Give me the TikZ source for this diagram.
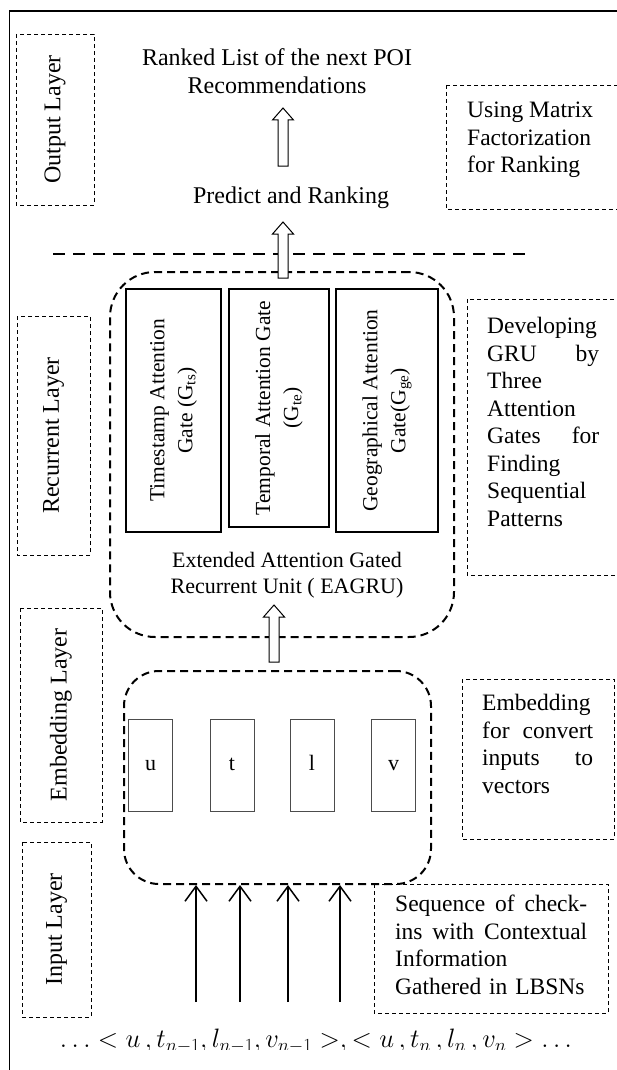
\documentclass[tikz,border=0pt]{standalone}
\usepackage{fontspec}
\usepackage{graphicx}
\setmainfont{Liberation Serif}
\usetikzlibrary{arrows.meta,calc}

\newcommand{\blockup}[2]{%
  \draw[blockarrow] let \p1=(#1), \p2=(#2) in
    (\x1-5pt,\y1) -- (\x1-5pt,\y2-12pt) -- (\x1-10.5pt,\y2-12pt) -- (\x1,\y2)
    -- (\x1+10.5pt,\y2-12pt) -- (\x1+5pt,\y2-12pt) -- (\x1+5pt,\y1) -- cycle;}

\tikzset{
  every node/.style={inner sep=0pt, font=\fontsize{24}{28}\selectfont},
  layerbox/.style={draw, line width=0.8pt, dash pattern=on 4pt off 3pt, rotate=90, align=center},
  notebox/.style={draw, line width=0.8pt, dash pattern=on 4pt off 3pt},
  notetext/.style={anchor=north west, align=left, font=\fontsize{23.5}{27.5}\selectfont},
  groupbox/.style={draw, line width=2pt, dash pattern=on 8pt off 5pt},
  gate/.style={draw, line width=2pt, rotate=90, align=center, font=\fontsize{21.5}{28}\selectfont},
  vecbox/.style={draw=black!70, line width=0.9pt, minimum width=44, minimum height=92,
    text height=11pt, text depth=0pt, font=\fontsize{22}{26}\selectfont},
  blockarrow/.style={draw, line width=1pt, fill=white},
  inarrow/.style={line width=1.5pt, -{Straight Barb[length=15pt,width=22pt,line width=1.5pt]}}
}

\begin{document}
\begin{tikzpicture}[x=1pt,y=-1pt]
\useasboundingbox (0,0) rectangle (616,1070);
% frame
\draw[line width=1.2pt] (9.5,1075) -- (9.5,11) -- (625,11);

% layers on the left
\node[layerbox, minimum width=171, minimum height=78] (outlayer) at (55,119.5) {Output Layer};
\node[layerbox, minimum width=239, minimum height=73] (reclayer) at (53.5,435.5) {Recurrent Layer};
\node[layerbox, minimum width=214, minimum height=82] (emblayer) at (61,715) {Embedding Layer};
\node[layerbox, minimum width=175, minimum height=69] (inlayer) at (56.5,929.5) {Input Layer};

% output part
\node[align=center] (title) at (277,71) {Ranked List of the next POI\\Recommendations};
\node (predict) at (291,198) {Predict and Ranking};
\draw[line width=0.8pt, dash pattern=on 4pt off 3pt] (446,85) rectangle (625,209);
\node[notetext] (mfnote) at (467,102) {Using Matrix\\Factorization\\for Ranking};

\draw[line width=2pt, dash pattern=on 12pt off 8pt] (53,254) -- (527,254);

% recurrent part
\node[groupbox, rounded corners=45pt, minimum width=344, minimum height=365] (eagru) at (282,454.5) {};
\node[gate, minimum width=243, minimum height=95] (gts) at (173.5,410.5) {Timestamp Attention\\Gate (G\textsubscript{ts})};
\node[gate, minimum width=238, minimum height=100] (gte) at (279,408) {Temporal Attention Gate\\(G\textsubscript{te})};
\node[gate, minimum width=243, minimum height=102] (gge) at (387,410.5) {Geographical Attention\\Gate(G\textsubscript{ge})};
\node[align=center, font=\fontsize{22}{26}\selectfont] (eagrulbl) at (287,575) {Extended Attention Gated\\Recurrent Unit ( EAGRU)};
\draw[notebox] (467,299) rectangle (625,575);
\node[notetext, text width=112] (grunote) at (487,317) {Developing\\GRU\hfill by\\Three\\Attention\\Gates\hfill for\\Finding\\Sequential\\Patterns};

% embedding part
\node[groupbox, rounded corners=35pt, minimum width=307, minimum height=213] (emb) at (277.5,777.5) {};
\node[vecbox] (vu) at (150.5,765) {u};
\node[vecbox] (vt) at (232,765) {t};
\node[vecbox] (vl) at (312,765) {l};
\node[vecbox] (vv) at (393.5,765) {v};
\draw[notebox] (462,679) rectangle (614,839);
\node[notetext, text width=111] (embnote) at (482,694) {Embedding\\for\hfill convert\\inputs\hfill to\\vectors};

% input part
\draw[notebox] (374,884) rectangle (608,1013);
\node[notetext, text width=192] (seqnote) at (395,895) {Sequence\hfill of\hfill check-\\ins\hfill with\hfill Contextual\\Information\\Gathered in LBSNs};
\coordinate (s1) at (196,1002);
\coordinate (s2) at (240,1002);
\coordinate (s3) at (288,1002);
\coordinate (s4) at (340,1002);
\foreach \s in {s1,s2,s3,s4}
  \draw[inarrow] (\s) -- (\s |- emb.south);
\begin{scope}
\clip (0,1020) rectangle (616,1049);
\node[anchor=base] (seq) at (316,1047) {\scalebox{1.07}{$\ldots<u\,,t_{n-1},l_{n-1},v_{n-1}>,<u\,,t_n\,,l_n\,,v_n>\ldots$}};
\end{scope}

% block arrows
\coordinate (a1b) at (283,166);
\coordinate (a1t) at (283,108);
\coordinate (a2b) at (283,278);
\coordinate (a2t) at (283,222);
\coordinate (a3b) at (274,662);
\coordinate (a3t) at (274,605);
\blockup{a1b}{a1t}
\blockup{a2b}{a2t}
\blockup{a3b}{a3t}
\end{tikzpicture}
\end{document}
